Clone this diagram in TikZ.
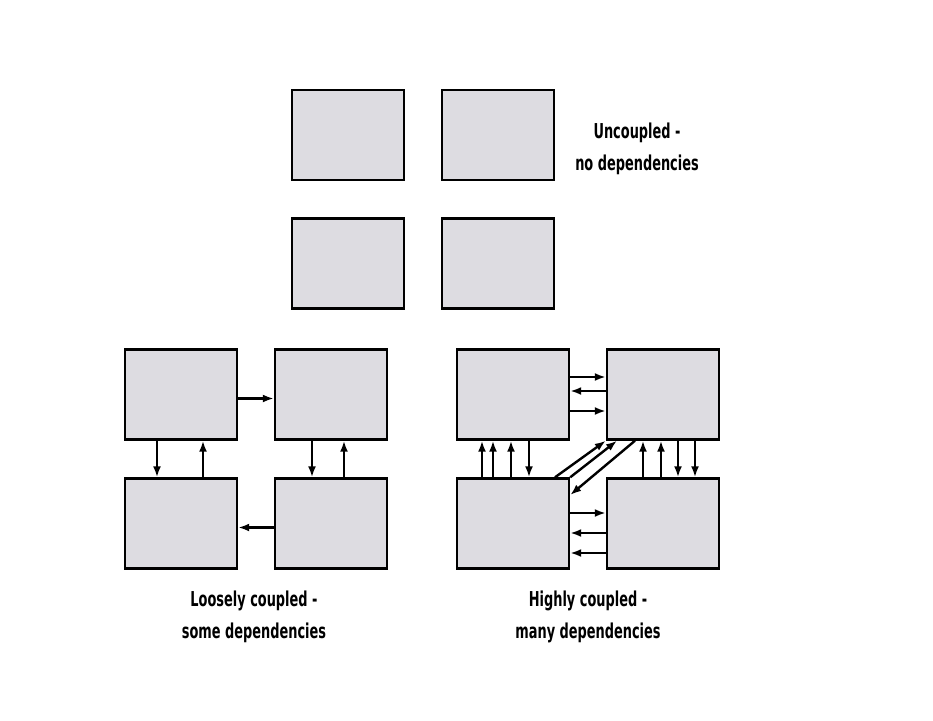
\documentclass[tikz,border=0pt]{standalone}
\usepackage{fontspec}
\setmainfont{DejaVu Sans}[FakeStretch=0.63]
\usetikzlibrary{arrows.meta}
\definecolor{boxgrey}{RGB}{221,220,225}
\tikzset{
  arr/.style={line width=2.4pt,-{Latex[length=11pt,width=8pt]}},
}
\begin{document}
\begin{tikzpicture}[x=1pt,y=-1pt,
  every node/.style={draw,rectangle,line width=2.4pt,fill=boxgrey,minimum width=112pt,minimum height=90pt,inner sep=0pt},
  label/.style={draw=none,fill=none,minimum width=0pt,minimum height=0pt,align=center,
    font=\fontsize{20.5}{32}\selectfont\bfseries}]
\useasboundingbox (0,0) rectangle (933,720);
% uncoupled
\node (ua) at (348,135)   {};
\node (ub) at (498,135)   {};
\node (uc) at (348,263.5) {};
\node (ud) at (498,263.5) {};
\node[label] at (637,149) {Uncoupled -\\no dependencies};
% loosely coupled
\node (la) at (181,394.5) {};
\node (lb) at (331,394.5) {};
\node (lc) at (181,523.5) {};
\node (ld) at (331,523.5) {};
\draw[arr] ([yshift=-4pt]la.east)    -- ([yshift=-4pt]lb.west);
\draw[arr] ([xshift=-24pt]la.south)  -- ([xshift=-24pt]lc.north);
\draw[arr] ([xshift=22pt]lc.north)   -- ([xshift=22pt]la.south);
\draw[arr] ([xshift=-19pt]lb.south)  -- ([xshift=-19pt]ld.north);
\draw[arr] ([xshift=13pt]ld.north)   -- ([xshift=13pt]lb.south);
\draw[arr] ([yshift=-4pt]ld.west)    -- ([yshift=-4pt]lc.east);
\node[label] at (254,617) {Loosely coupled -\\some dependencies};
% highly coupled
\node (ha) at (513,394.5) {};
\node (hb) at (663,394.5) {};
\node (hc) at (513,523.5) {};
\node (hd) at (663,523.5) {};
\draw[arr] ([yshift=17.5pt]ha.east)  -- ([yshift=17.5pt]hb.west);
\draw[arr] ([yshift=3.5pt]hb.west)   -- ([yshift=3.5pt]ha.east);
\draw[arr] ([yshift=-16.5pt]ha.east) -- ([yshift=-16.5pt]hb.west);
\draw[arr] ([yshift=10.5pt]hc.east)  -- ([yshift=10.5pt]hd.west);
\draw[arr] ([yshift=-9.5pt]hd.west)  -- ([yshift=-9.5pt]hc.east);
\draw[arr] ([yshift=-29.5pt]hd.west) -- ([yshift=-29.5pt]hc.east);
\draw[arr] ([xshift=-31pt]hc.north)  -- ([xshift=-31pt]ha.south);
\draw[arr] ([xshift=-20pt]hc.north)  -- ([xshift=-20pt]ha.south);
\draw[arr] ([xshift=-2pt]hc.north)   -- ([xshift=-2pt]ha.south);
\draw[arr] ([xshift=16pt]ha.south)   -- ([xshift=16pt]hc.north);
\draw[arr] ([xshift=-20pt]hd.north)  -- ([xshift=-20pt]hb.south);
\draw[arr] ([xshift=-2pt]hd.north)   -- ([xshift=-2pt]hb.south);
\draw[arr] ([xshift=15pt]hb.south)   -- ([xshift=15pt]hd.north);
\draw[arr] ([xshift=32pt]hb.south)   -- ([xshift=32pt]hd.north);
\draw[arr] ([xshift=42pt]hc.north)   -- (hb.south west);
\draw[arr] (hc.north east)           -- ([xshift=-46pt]hb.south);
\draw[arr] ([xshift=-28pt]hb.south)  -- ([yshift=28.5pt]hc.east);
\node[label] at (588,617) {Highly coupled -\\many dependencies};
\end{tikzpicture}
\end{document}
